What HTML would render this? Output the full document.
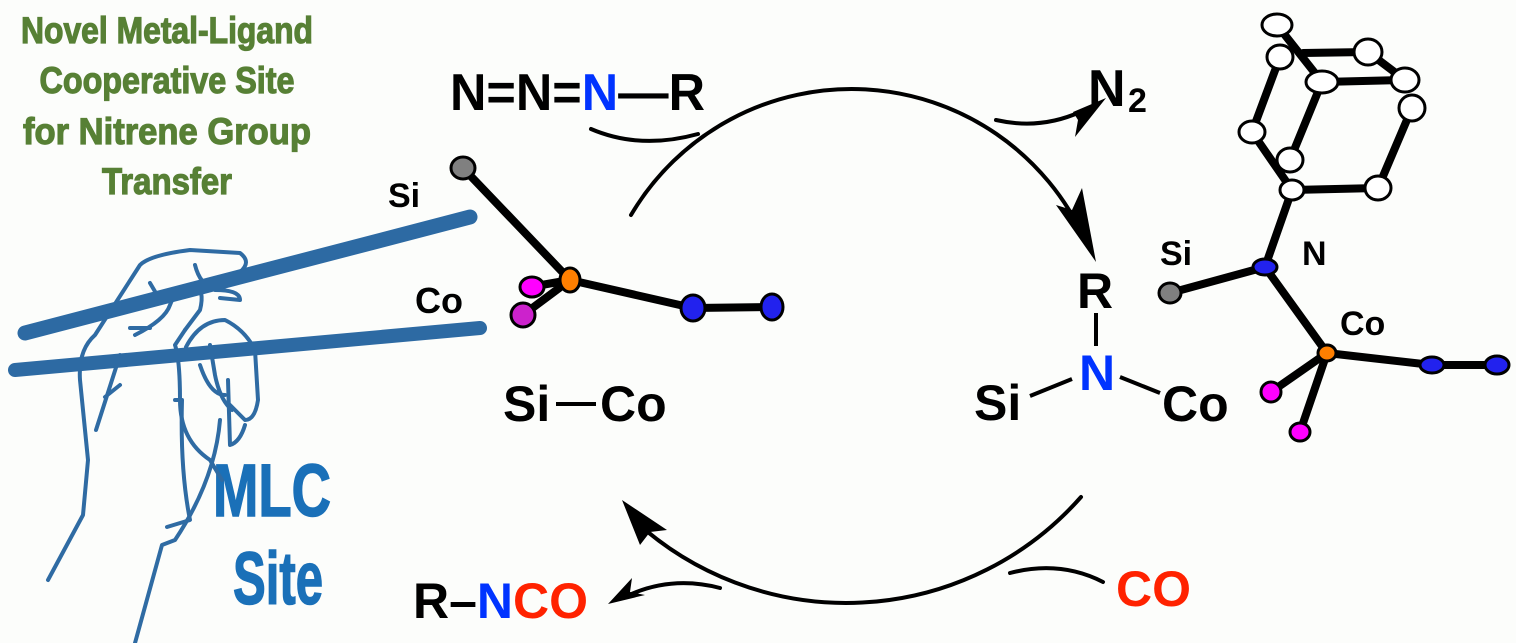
<!DOCTYPE html>
<html><head><meta charset="utf-8"><style>
html,body{margin:0;padding:0;background:#fcfdfb;}
svg{display:block}
text{font-family:"Liberation Sans",sans-serif;font-weight:bold}
</style></head><body>
<svg width="1516" height="643" viewBox="0 0 1516 643" xmlns="http://www.w3.org/2000/svg">
<rect width="1516" height="643" fill="#fcfdfb"/>
<!-- green title -->
<g fill="#578035" stroke="#578035" stroke-width="1.2" font-size="37" text-anchor="middle">
<text x="167" y="43" textLength="292" lengthAdjust="spacingAndGlyphs">Novel Metal-Ligand</text>
<text x="167" y="93" textLength="255" lengthAdjust="spacingAndGlyphs">Cooperative Site</text>
<text x="167" y="144" textLength="288" lengthAdjust="spacingAndGlyphs">for Nitrene Group</text>
<text x="167" y="194" textLength="130" lengthAdjust="spacingAndGlyphs">Transfer</text>
</g>
<!-- azide -->
<g font-size="52" fill="#000">
<text x="450" y="110" textLength="255" lengthAdjust="spacingAndGlyphs">N=N=<tspan fill="#0033ff">N</tspan>—R</text>
<text x="1088" y="106">N</text><text x="1128" y="112" font-size="34">2</text>
</g>
<!-- cycle arrows -->
<g fill="none" stroke="#000" stroke-width="4" stroke-linecap="round">
<path d="M631,215 A256,256 0 0 1 1085,240"/>
<path d="M591,129 Q640,150 698,134"/>
<path d="M996,120 Q1040,130 1080,112"/>
<path d="M1081,497 A313,313 0 0 1 634,520"/>
<path d="M1103,582 Q1060,560 1010,573"/>
<path d="M720,588 Q670,575 625,597"/>
</g>
<g fill="#000">
<polygon points="1096,262 1056,205 1072,210 1082,188"/>
<polygon points="1106,98 1073,112 1078,120 1075,137"/>
<polygon points="622,500 640,545 650,532 667,530"/>
<polygon points="608,604 632,578 630,592 645,595"/>
</g>
<!-- Si—Co -->
<g font-size="50" fill="#000">
<text x="503" y="421">Si</text>
<text x="600" y="421">Co</text>
</g>
<line x1="556" y1="404" x2="596" y2="404" stroke="#000" stroke-width="4"/>
<!-- R N Si Co -->
<g font-size="50" fill="#000">
<text x="1077" y="308">R</text>
<text x="1079" y="390" fill="#0033ff">N</text>
<text x="974" y="420">Si</text>
<text x="1162" y="421">Co</text>
</g>
<g stroke="#000" stroke-width="4">
<line x1="1096" y1="313" x2="1096" y2="346"/>
<line x1="1030" y1="396" x2="1072" y2="379"/>
<line x1="1120" y1="377" x2="1160" y2="393"/>
</g>
<!-- R-NCO, CO -->
<g font-size="50">
<text x="413" y="618" fill="#000">R–<tspan fill="#0033ff">N</tspan><tspan fill="#ff2200">CO</tspan></text>
<text x="1116" y="606" fill="#ff2200">CO</text>
</g>
<!-- MLC -->
<g fill="#1a70b8" stroke="#1a70b8" stroke-width="1.5" font-size="74" text-anchor="middle">
<text x="272" y="516" textLength="118" lengthAdjust="spacingAndGlyphs">MLC</text>
<text x="278" y="604" textLength="90" lengthAdjust="spacingAndGlyphs">Site</text>
</g>
<!-- hand -->
<g fill="none" stroke="#2f6ba3" stroke-width="4" stroke-linecap="round" stroke-linejoin="round">
<path d="M48,580 L83,515 L88,460 L80,380 Q78,350 95,335 L140,265 Q150,255 190,250 L240,253 Q252,262 240,272 L220,282"/>
<path d="M195,265 Q200,285 215,290 Q240,290 240,300 L220,298"/>
<path d="M135,335 Q165,320 170,305 Q175,290 195,285 Q205,290 200,310 L185,330"/>
<path d="M150,283 L160,300 M130,328 L150,328"/>
<path d="M120,355 L96,430 M105,397 L120,385"/>
<path d="M185,330 L175,345 Q180,360 180,400 L175,400"/>
<path d="M180,400 Q180,440 210,460 L222,480"/>
<path d="M186,347 Q200,320 225,320 Q245,330 255,350 L258,400 Q255,420 245,420 L230,405"/>
<path d="M210,345 L215,375 Q220,400 232,410"/>
<path d="M228,380 L230,445 Q240,442 245,425"/>
<path d="M200,365 Q210,395 225,395"/>
<path d="M182,400 Q180,470 190,520 L167,527"/>
<path d="M220,420 Q215,480 175,540 L162,545 L135,643"/>
</g>
<g stroke="#2d6aa3" stroke-linecap="round">
<line x1="25" y1="333" x2="470" y2="217" stroke-width="15"/>
<line x1="15" y1="370" x2="480" y2="328" stroke-width="14"/>
</g>
<!-- left ORTEP -->
<text x="388" y="207" font-size="34" fill="#000">Si</text>
<text x="415" y="313" font-size="36" fill="#000">Co</text>
<g stroke="#000" stroke-width="8" stroke-linecap="round">
<line x1="463" y1="168" x2="570" y2="280"/>
<line x1="570" y1="280" x2="693" y2="308"/>
<line x1="693" y1="308" x2="772" y2="307"/>
<line x1="570" y1="280" x2="530" y2="287"/>
<line x1="570" y1="280" x2="523" y2="315"/>
</g>
<g stroke="#000" stroke-width="3">
<ellipse cx="463" cy="168" rx="12" ry="11" fill="#808080"/>
<ellipse cx="532" cy="287" rx="12" ry="10" fill="#ff00ff"/>
<ellipse cx="523" cy="315" rx="12" ry="12" fill="#cc22cc"/>
<ellipse cx="570" cy="280" rx="10" ry="12" fill="#ff7f00"/>
<ellipse cx="693" cy="308" rx="12" ry="13" fill="#2222ee"/>
<ellipse cx="772" cy="307" rx="11" ry="13" fill="#2222ee"/>
</g>
<!-- right ORTEP -->
<g font-size="34" fill="#000">
<text x="1160" y="265">Si</text>
<text x="1302" y="265">N</text>
<text x="1340" y="335">Co</text>
</g>
<g stroke="#000" stroke-width="8" stroke-linecap="round">
<line x1="1170" y1="293" x2="1265" y2="267"/>
<line x1="1265" y1="267" x2="1292" y2="190"/>
<line x1="1265" y1="267" x2="1327" y2="353"/>
<line x1="1327" y1="353" x2="1432" y2="365"/>
<line x1="1432" y1="365" x2="1497" y2="365"/>
<line x1="1327" y1="353" x2="1271" y2="392"/>
<line x1="1327" y1="353" x2="1300" y2="432"/>
<line x1="1292" y1="190" x2="1378" y2="188"/>
<line x1="1378" y1="188" x2="1412" y2="108"/>
<line x1="1292" y1="190" x2="1252" y2="132"/>
<line x1="1252" y1="132" x2="1280" y2="57"/>
<line x1="1290" y1="160" x2="1322" y2="82"/>
<line x1="1322" y1="82" x2="1405" y2="80"/>
<line x1="1277" y1="25" x2="1322" y2="82"/>
<line x1="1303" y1="53" x2="1368" y2="52"/>
<line x1="1368" y1="52" x2="1405" y2="80"/>
</g>
<g stroke="#000" stroke-width="3" fill="#fff">
<ellipse cx="1277" cy="25" rx="15" ry="11"/>
<ellipse cx="1280" cy="57" rx="13" ry="12"/>
<ellipse cx="1368" cy="52" rx="14" ry="13"/>
<ellipse cx="1322" cy="82" rx="16" ry="11"/>
<ellipse cx="1405" cy="80" rx="14" ry="12"/>
<ellipse cx="1412" cy="108" rx="13" ry="13"/>
<ellipse cx="1252" cy="132" rx="13" ry="11"/>
<ellipse cx="1290" cy="160" rx="13" ry="12"/>
<ellipse cx="1292" cy="190" rx="12" ry="10"/>
<ellipse cx="1378" cy="188" rx="13" ry="12"/>
<ellipse cx="1170" cy="293" rx="11" ry="10" fill="#808080"/>
<ellipse cx="1265" cy="267" rx="12" ry="8" fill="#2222ee"/>
<ellipse cx="1327" cy="353" rx="9" ry="8" fill="#ff7f00"/>
<ellipse cx="1432" cy="365" rx="12" ry="8" fill="#2222ee"/>
<ellipse cx="1497" cy="365" rx="12" ry="9" fill="#2222ee"/>
<ellipse cx="1271" cy="392" rx="10" ry="10" fill="#ff00ff"/>
<ellipse cx="1300" cy="432" rx="10" ry="9" fill="#ff00ff"/>
</g>
</svg>
</body></html>
